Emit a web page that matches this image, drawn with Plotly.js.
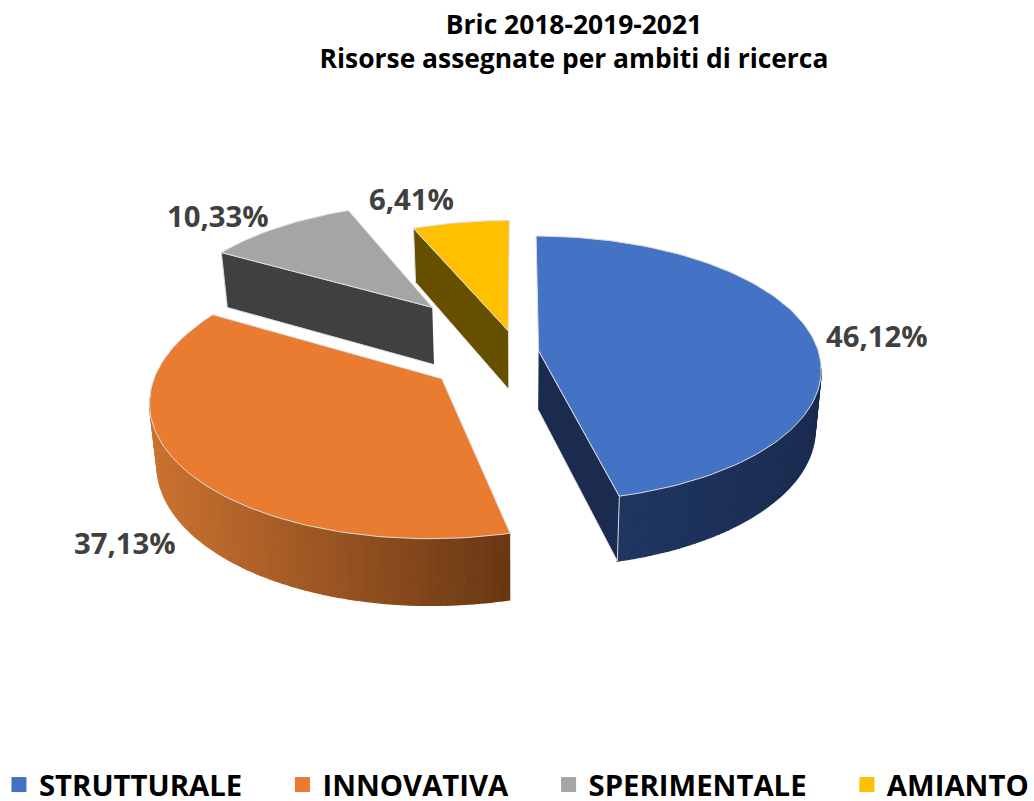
<!DOCTYPE html>
<html>
<head>
<meta charset="utf-8">
<script src="https://cdn.plot.ly/plotly-3.0.1.min.js"></script>
<style>html,body{margin:0;padding:0;background:#fff}#chart{width:1034px;height:801px}</style>
</head>
<body>
<div id="chart"></div>
<script>
// Data
const categories = ['STRUTTURALE', 'INNOVATIVA', 'SPERIMENTALE', 'AMIANTO'];
const shares = [46.12, 37.13, 10.33, 6.41];
const topColors = ['#4472c4', '#e97c31', '#a5a5a5', '#ffc000'];
const titleLines = ['Bric 2018-2019-2021', 'Risorse assegnate per ambiti di ricerca'];

// Look of the 3D pie (Plotly has no 3D pie, so the disc is projected here)
const view = {cx: 517.5, cy: 352, a: 280, b: 130.5, k: 0.135, depth: 59, shrink: 0.98};
const explode = [0.076, 0.33, 0.48, 0.17];
const radius = [1, 1, 0.99, 1];
const wallLight = [[31, 54, 98], [203, 114, 48], [64, 64, 64], [102, 80, 0]];
const wallDark = [[26, 43, 79], [104, 55, 19], [64, 64, 64], [102, 80, 0]];
const labelAnchors = [[877, 336], [125, 543], [218, 216], [411, 199]];
const edge = '#dcdcdc';

function project(u, v, low) {
  const w = 1 + view.k * v, s = low ? view.shrink : 1;
  return [view.cx + s * view.a * u / w,
          view.cy - s * view.b * v / w + (low ? view.depth / w : 0)];
}
const total = shares.reduce((p, c) => p + c, 0);
const traces = [];
function poly(pts, color, lineColor, lineWidth) {
  traces.push({x: pts.map(p => p[0]), y: pts.map(p => p[1]), mode: 'lines', fill: 'toself',
    fillcolor: color, line: {color: lineColor || color, width: lineWidth},
    hoverinfo: 'skip', showlegend: false});
}
const lerp = (c1, c2, t) => 'rgb(' + c1.map((c, i) => Math.round(c + (c2[i] - c) * t)).join(',') + ')';

let acc = 0;
const frontStart = Math.PI / 2 + Math.asin(view.k), frontEnd = 1.5 * Math.PI - Math.asin(view.k);
shares.forEach((value, i) => {
  const t0 = acc / total * 2 * Math.PI, t1 = (acc + value) / total * 2 * Math.PI;
  acc += value;
  const mid = (t0 + t1) / 2, e = explode[i], r = radius[i];
  const ox = e * Math.sin(mid), oy = e * Math.cos(mid);
  const rim = (t, low) => project(ox + r * Math.sin(t), oy + r * Math.cos(t), low);
  const apex = low => project(ox, oy, low);

  // outer wall, shaded in strips from left to right
  const a0 = Math.max(t0, frontStart), a1 = Math.min(t1, frontEnd);
  if (a1 > a0) {
    const n = 60;
    const xa = rim(a0, false)[0], xb = rim(a1, false)[0];
    const xl = Math.min(xa, xb), xr = Math.max(xa, xb);
    for (let s = 0; s < n; s++) {
      const p0 = a0 + (a1 - a0) * s / n, p1 = a0 + (a1 - a0) * (s + 1) / n;
      const xm = (rim(p0, false)[0] + rim(p1, false)[0]) / 2;
      poly([rim(p0, false), rim(p1, false), rim(p1, true), rim(p0, true)],
           lerp(wallLight[i], wallDark[i], (xm - xl) / (xr - xl)), null, 1.4);
    }
  }

  // cut wall seen by the viewer
  if (i === 0) poly([apex(false), rim(t1, false), rim(t1, true), apex(true)], lerp(wallDark[i], wallDark[i], 0), edge, 1);
  if (i >= 2) poly([apex(false), rim(t0, false), rim(t0, true), apex(true)], lerp(wallDark[i], wallDark[i], 0), edge, 1);

  // top face
  const pts = [apex(false)];
  const steps = Math.max(8, Math.round((t1 - t0) * 40));
  for (let s = 0; s <= steps; s++) pts.push(rim(t0 + (t1 - t0) * s / steps, false));
  pts.push(apex(false));
  poly(pts, topColors[i], edge, 1);
});

// legend entries
const legendGap = '\u00a0\u00a0\u00a0\u00a0\u2009';
categories.forEach((name, i) => traces.push({
  x: [null], y: [null], mode: 'markers', name: i < categories.length - 1 ? name + legendGap : name,
  marker: {symbol: 'square', size: 15, color: topColors[i]}, hoverinfo: 'skip', showlegend: true
}));

const annotations = shares.map((v, i) => ({
  x: labelAnchors[i][0], y: labelAnchors[i][1], xref: 'x', yref: 'y', showarrow: false,
  text: v.toFixed(2).replace('.', ',') + '%',
  font: {family: 'Open Sans', size: 29.3, color: '#404040', weight: 700}
}));

const layout = {
  width: 1034, height: 801, margin: {l: 0, r: 0, t: 0, b: 0, autoexpand: false},
  paper_bgcolor: '#fff', plot_bgcolor: '#fff',
  title: {text: titleLines.join('<br>'), x: 574 / 1034, xanchor: 'center', y: 0.9575, yanchor: 'top',
    font: {family: 'Open Sans', size: 26.4, color: '#000', weight: 700}},
  xaxis: {range: [0, 1034], visible: false, fixedrange: true},
  yaxis: {range: [801, 0], visible: false, fixedrange: true},
  showlegend: true,
  legend: {orientation: 'h', x: -0.001, xanchor: 'left', y: -0.0125, yanchor: 'bottom', itemwidth: 30,
    font: {family: 'Open Sans', size: 29.3, color: '#000', weight: 700}, bgcolor: 'rgba(0,0,0,0)'},
  annotations: annotations
};
Plotly.newPlot('chart', traces, layout, {displayModeBar: false, responsive: false});
</script>
</body>
</html>
